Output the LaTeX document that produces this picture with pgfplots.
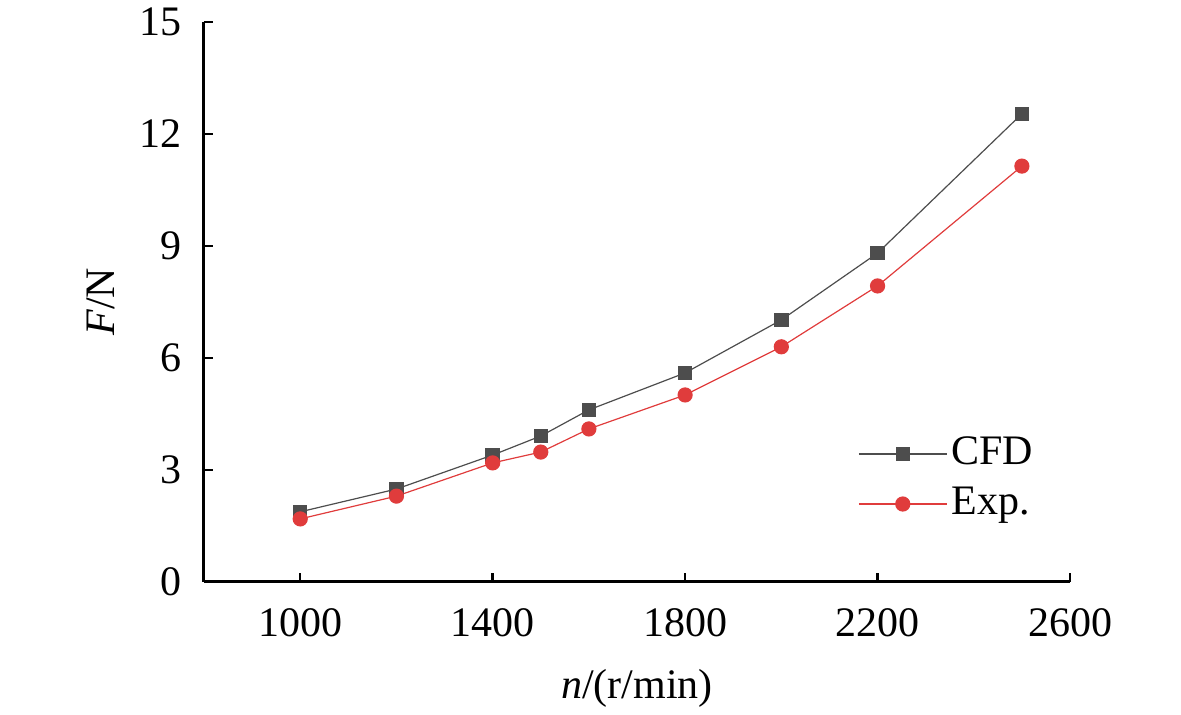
\documentclass[border=0pt]{standalone}
\usepackage{fontspec}
\setmainfont{Liberation Serif}
\usepackage{pgfplots}
\pgfplotsset{compat=1.18}
\definecolor{cfd}{HTML}{4D4D4D}
\definecolor{expc}{HTML}{E03C3C}
\begin{document}
\fontsize{21}{25}\selectfont
\begin{tikzpicture}
\begin{axis}[
  at={(0,0)}, anchor=origin,
  scale only axis,
  width=433pt, height=280pt,
  xmin=800, xmax=2600, ymin=0, ymax=15,
  xtick={1000,1400,1800,2200,2600},
  ytick={0,3,6,9,12,15},
  axis x line*=bottom, axis y line*=left,
  axis line style={line width=1.5pt, -},
  tick style={line width=1.2pt, black},
  tick align=inside,
  major tick length=4.5pt,
  /pgf/number format/assume math mode=true,
  /pgf/number format/1000 sep={},
  ticklabel style={font=\fontsize{21}{25}\selectfont},
  xticklabel style={yshift=-6pt},
  yticklabel style={xshift=-4pt},
  xlabel={\textit{n}/(r/min)},
  ylabel={\textit{F}/N},
  label style={font=\fontsize{21}{25}\selectfont},
  xlabel style={yshift=-2pt},
  ylabel style={yshift=-2pt},
  legend style={draw=none, fill=none, at={(0.748,0.184)}, anchor=west,
    font=\fontsize{21}{25}\selectfont, row sep=4pt,
    legend cell align=left},
  legend image code/.code={
    \draw[#1, mark repeat=2, mark phase=2] plot coordinates {(0pt,0pt) (22pt,0pt) (44pt,0pt)};},
]
\addplot[cfd, line width=0.6pt, mark=square*, mark size=3.3pt, mark options={solid, fill=cfd, draw=cfd}] coordinates {
(1000,1.88) (1200,2.49) (1400,3.40) (1500,3.91) (1600,4.61) (1800,5.60) (2000,7.02) (2200,8.81) (2500,12.54)};
\addlegendentry{CFD}
\addplot[expc, line width=0.6pt, mark=*, mark size=3.5pt, mark options={solid, fill=expc, draw=expc}] coordinates {
(1000,1.69) (1200,2.30) (1400,3.19) (1500,3.48) (1600,4.10) (1800,5.01) (2000,6.30) (2200,7.93) (2500,11.14)};
\addlegendentry{Exp.}
\end{axis}
\pgfresetboundingbox
\path (-102pt,-66.5pt) rectangle (488.5pt,291pt);
\end{tikzpicture}
\end{document}
